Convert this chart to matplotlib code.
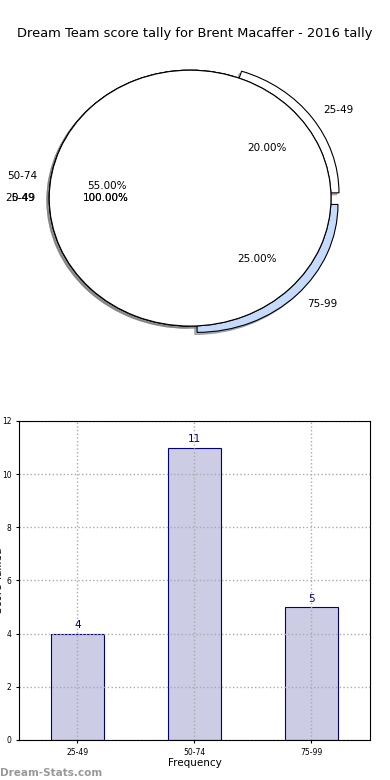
"""
Dream Team score tally - pie + bar summary.
"""

# %% imports
import matplotlib
matplotlib.use('Agg')
import matplotlib.pyplot as plt


# %% data
categories = ['25-49', '50-74', '75-99']
tallies = [4, 11, 5]
pieColors = ['white', 'white', '#c6dbfb']
pieExplode = [0.07, 0, 0.07]
overlayLabels = ['25-49', '0-49']
title = 'Dream Team score tally for Brent Macaffer - 2016 tally'


# %% figure
fig = plt.figure(figsize=(3.9, 7.8), dpi=100)
fig.patch.set_facecolor('white')
fig.suptitle(title, fontsize=9.4, y=0.965)

shadowStyle = {'ox': -0.012, 'oy': -0.012, 'shade': 0.5}

# pie section
axPie = fig.add_axes([0.036, 0.541, 0.903, 0.41])
axPie.pie(tallies, labels=categories, colors=pieColors, explode=pieExplode,
          autopct='%.2f%%', startangle=0, shadow=shadowStyle,
          wedgeprops={'edgecolor': 'black', 'linewidth': 0.8},
          textprops={'fontsize': 7.5})
# full white disc on top, one per overlay label
for lab in overlayLabels:
    axPie.pie([sum(tallies)], labels=[lab], colors=['white'], autopct='%.2f%%',
              startangle=0, shadow=shadowStyle,
              wedgeprops={'edgecolor': 'black', 'linewidth': 0.8},
              textprops={'fontsize': 7.5})
axPie.set_aspect('auto')
axPie.set_xlim(-1.25, 1.25)
axPie.set_ylim(-1.25, 1.25)

# bar section
axBar = fig.add_axes([0.0487, 0.0513, 0.9, 0.409])
xpos = range(len(categories))
bars = axBar.bar(xpos, tallies, width=0.45, color='#cccce4',
                 edgecolor='navy', linewidth=0.8)
for rect, val in zip(bars, tallies):
    axBar.text(rect.get_x() + rect.get_width() / 2, val + 0.12, str(val),
               ha='center', va='bottom', color='navy', fontsize=7.5)
axBar.set_xlim(-0.5, 2.5)
axBar.set_ylim(0, 12)
axBar.set_yticks(range(0, 13, 2))
axBar.set_xticks(list(xpos))
axBar.set_xticklabels(categories)
axBar.tick_params(labelsize=5.5, length=2)
axBar.grid(True, linestyle=':', color='#aaaaaa', linewidth=1)
axBar.set_axisbelow(False)
for sp in axBar.spines.values():
    sp.set_zorder(5)
axBar.set_xlabel('Frequency', fontsize=7.5, labelpad=1)
axBar.set_ylabel('Score Tallied', fontsize=7.5)
axBar.yaxis.set_label_coords(-0.044, 0.5)

fig.text(0.0, 0.003, 'Dream-Stats.com', fontsize=7.5, color='#999999',
         fontweight='bold', ha='left', va='bottom')

fig.savefig('out.png', dpi=100)
